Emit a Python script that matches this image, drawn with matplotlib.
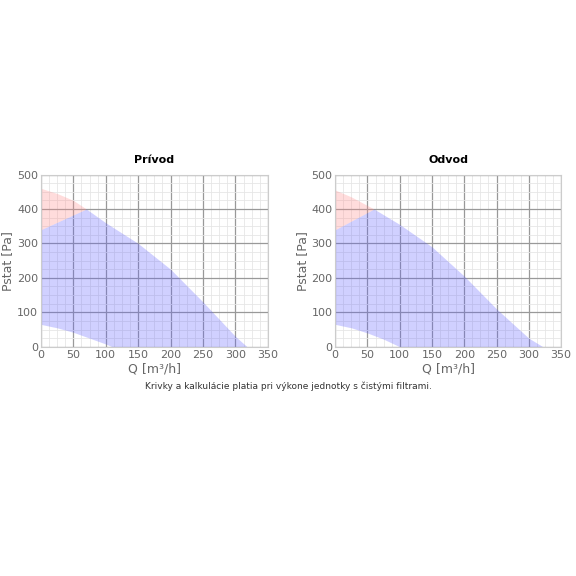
import numpy as np
import matplotlib.pyplot as plt
from matplotlib.ticker import MultipleLocator

# fan curve (max), low curve, and working range top line
q_priv = [0, 25, 50, 70, 100, 150, 200, 250, 300, 318]
p_priv = [460, 445, 425, 400, 360, 300, 225, 130, 30, 0]
q_priv_low = [0, 25, 50, 75, 100, 110]
p_priv_low = [65, 55, 42, 25, 8, 0]
q_priv_lim = [0, 70]
p_priv_lim = [340, 400]

q_odv = [0, 25, 50, 60, 100, 150, 200, 250, 300, 322]
p_odv = [455, 435, 410, 400, 355, 290, 205, 110, 25, 0]
q_odv_low = [0, 25, 50, 75, 100]
p_odv_low = [65, 55, 40, 22, 0]
q_odv_lim = [0, 60]
p_odv_lim = [340, 400]

fig = plt.figure(figsize=(5.76, 5.76), dpi=100)


def draw(ax, title, q, p, ql, pl, qm, pm):
    q = np.array(q, float); p = np.array(p, float)
    qs = np.linspace(0, q[-1], 300)
    top = np.interp(qs, q, p)
    lim = np.interp(qs, qm, pm, right=np.inf)
    low = np.interp(qs, ql, pl, right=0)
    blue_top = np.minimum(top, lim)
    ax.fill_between(qs, low, blue_top, color=(0.35, 0.35, 1.0), alpha=0.28, lw=0)
    mask = qs <= qm[-1]
    ax.fill_between(qs[mask], blue_top[mask], top[mask], color=(1.0, 0.55, 0.55), alpha=0.3, lw=0)
    ax.set_xlim(0, 350)
    ax.set_ylim(0, 500)
    ax.xaxis.set_major_locator(MultipleLocator(50))
    ax.yaxis.set_major_locator(MultipleLocator(100))
    ax.xaxis.set_minor_locator(MultipleLocator(12.5))
    ax.yaxis.set_minor_locator(MultipleLocator(25))
    ax.grid(which='major', color='#999999', lw=0.9)
    ax.grid(which='minor', color='#e6e6e6', lw=0.6)
    ax.set_axisbelow(True)
    for s in ax.spines.values():
        s.set_color('#cccccc')
    ax.tick_params(which='both', length=0, labelsize=8, colors='#666666', pad=2)
    ax.set_title(title, fontsize=8, fontweight='bold', pad=8)
    ax.set_xlabel('Q [m³/h]', fontsize=9, color='#666666', labelpad=2)
    ax.set_ylabel('Pstat [Pa]', fontsize=9, color='#666666', labelpad=2)


ax1 = fig.add_axes([0.071, 0.398, 0.394, 0.299])
draw(ax1, 'Prívod', q_priv, p_priv, q_priv_low, p_priv_low, q_priv_lim, p_priv_lim)
ax2 = fig.add_axes([0.582, 0.398, 0.392, 0.299])
draw(ax2, 'Odvod', q_odv, p_odv, q_odv_low, p_odv_low, q_odv_lim, p_odv_lim)

fig.text(0.5, 0.325, 'Krivky a kalkulácie platia pri výkone jednotky s čistými filtrami.',
         ha='center', fontsize=6.5, color='#333333')

fig.savefig('out.png', dpi=100)
